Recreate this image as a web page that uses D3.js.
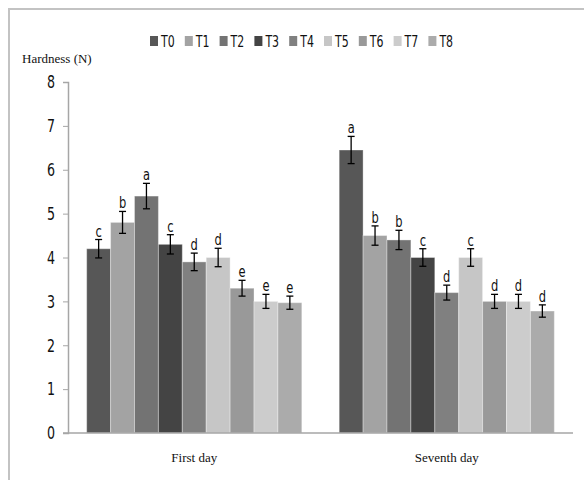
<!DOCTYPE html>
<html>
<head>
<meta charset="utf-8">
<script src="https://cdn.jsdelivr.net/npm/d3@7"></script>
<style>
	body { margin: 0; background: #fff; }
	svg { display: block; }
</style>
</head>
<body>
<svg id="chart"></svg>
<script>
	var days = ["First day", "Seventh day"];
	var treatments = ["T0", "T1", "T2", "T3", "T4", "T5", "T6", "T7", "T8"];
	var colors = ["#575757", "#a3a3a3", "#737373", "#444444", "#808080", "#c6c6c6", "#999999", "#cccccc", "#ababab"];

	// hardness (N), one row per day
	var firstDay = [4.2, 4.8, 5.4, 4.3, 3.9, 4.0, 3.3, 3.0, 2.97];
	var seventhDay = [6.45, 4.5, 4.4, 4.0, 3.2, 4.0, 3.0, 3.0, 2.78];
	var firstErr = [0.21, 0.25, 0.29, 0.22, 0.2, 0.21, 0.18, 0.16, 0.15];
	var seventhErr = [0.31, 0.22, 0.22, 0.2, 0.17, 0.2, 0.16, 0.16, 0.14];
	var firstLetters = ["c", "b", "a", "c", "d", "d", "e", "e", "e"];
	var seventhLetters = ["a", "b", "b", "c", "d", "c", "d", "d", "d"];
	var yTicks = [0, 1, 2, 3, 4, 5, 6, 7, 8];

	var width = 584, height = 480;
	var plotLeft = 68, plotRight = 573, plotTop = 82, plotBottom = 433;
	var COND = "'DejaVu Sans Condensed', 'DejaVu Sans', sans-serif";
	var SERIF = "'Liberation Serif', 'DejaVu Serif', serif";

	var svg = d3.select("#chart").attr("width", width).attr("height", height);

	// FRAME (only left and top edges are inside the picture)
	svg.append("path")
		.attr("d", "M9,480V9H584")
		.attr("fill", "none").attr("stroke", "#c3c3c3").attr("stroke-width", 2);

	var x0 = d3.scaleBand().domain(days).range([plotLeft, plotRight]).paddingInner(0.148).paddingOuter(0.074);
	var x1 = d3.scaleBand().domain(treatments).range([0, x0.bandwidth()]);
	var y = d3.scaleLinear().domain([0, 8]).range([plotBottom, plotTop]);

	var rows = [
		{ day: days[0], vals: firstDay, errs: firstErr, letters: firstLetters },
		{ day: days[1], vals: seventhDay, errs: seventhErr, letters: seventhLetters }
	];

	// Y AXIS
	var yAxis = svg.append("g")
		.attr("transform", "translate(" + plotLeft + ",0)")
		.call(d3.axisLeft(y).tickValues(yTicks).tickSize(5).tickPadding(8));
	yAxis.select(".domain").attr("stroke", "#a6a6a6").attr("stroke-width", 1.5);
	yAxis.selectAll(".tick line").attr("stroke", "#a6a6a6");
	// squeeze the digits, they are tall and narrow in the original
	yAxis.selectAll(".tick text")
		.attr("x", 0)
		.attr("transform", "translate(-13,0) scale(0.78,1)")
		.style("font-family", COND).style("font-size", "18px").attr("fill", "#111");

	// BARS
	var groups = svg.selectAll(".day").data(rows).enter().append("g")
		.attr("class", "day")
		.attr("transform", function(d) { return "translate(" + x0(d.day) + ",0)"; });

	function items(d) {
		return d.vals.map(function(v, i) { return { t: treatments[i], v: v, e: d.errs[i], l: d.letters[i], c: colors[i] }; });
	}

	groups.selectAll("rect").data(items).enter().append("rect")
		.attr("x", function(d) { return x1(d.t); })
		.attr("y", function(d) { return y(d.v); })
		.attr("width", x1.bandwidth())
		.attr("height", function(d) { return plotBottom - y(d.v); })
		.attr("fill", function(d) { return d.c; })
		.attr("stroke", "#ffffff").attr("stroke-opacity", 0.35).attr("stroke-width", 1);

	// ERROR BARS
	var err = groups.selectAll(".err").data(items).enter().append("g").attr("class", "err")
		.attr("transform", function(d) { return "translate(" + (x1(d.t) + x1.bandwidth() / 2) + ",0)"; });

	err.append("line")
		.attr("y1", function(d) { return y(d.v + d.e); })
		.attr("y2", function(d) { return y(d.v - d.e); })
		.attr("stroke", "#000").attr("stroke-width", 1.3);
	err.append("line")
		.attr("x1", -3.5).attr("x2", 3.5)
		.attr("y1", function(d) { return y(d.v + d.e); })
		.attr("y2", function(d) { return y(d.v + d.e); })
		.attr("stroke", "#000").attr("stroke-width", 1.3);
	err.append("line")
		.attr("x1", -3.5).attr("x2", 3.5)
		.attr("y1", function(d) { return y(d.v - d.e); })
		.attr("y2", function(d) { return y(d.v - d.e); })
		.attr("stroke", "#000").attr("stroke-width", 1.3);

	// SIGNIFICANCE LETTERS
	err.append("text")
		.attr("text-anchor", "middle")
		.attr("transform", function(d) { return "translate(0," + (y(d.v + d.e) - 3) + ") scale(0.85,1)"; })
		.style("font-family", COND)
		.style("font-size", "15px").attr("fill", "#111")
		.text(function(d) { return d.l; });

	// X AXIS
	svg.append("line")
		.attr("x1", plotLeft - 5).attr("x2", plotRight)
		.attr("y1", plotBottom).attr("y2", plotBottom)
		.attr("stroke", "#a6a6a6").attr("stroke-width", 1.5);

	svg.selectAll(".cat").data(days).enter().append("text")
		.attr("class", "cat")
		.attr("x", function(d) { return x0(d) + x0.bandwidth() / 2; })
		.attr("y", 462)
		.attr("text-anchor", "middle")
		.style("font-family", SERIF).style("font-size", "13px").attr("fill", "#111")
		.text(function(d) { return d; });

	svg.append("text")
		.attr("x", 22).attr("y", 63)
		.style("font-family", SERIF).style("font-size", "13px").attr("fill", "#111")
		.text("Hardness (N)");

	// LEGEND
	var legend = svg.selectAll(".leg").data(treatments).enter().append("g")
		.attr("class", "leg")
		.attr("transform", function(d, i) { return "translate(" + (150 + i * 34.8) + ",36)"; });
	legend.append("rect")
		.attr("width", 8).attr("height", 10)
		.attr("fill", function(d, i) { return colors[i]; });
	legend.append("text")
		.attr("transform", "translate(11,11) scale(0.74,1)")
		.style("font-family", COND).style("font-size", "16.5px").attr("fill", "#111")
		.text(function(d) { return d; });
</script>
</body>
</html>
